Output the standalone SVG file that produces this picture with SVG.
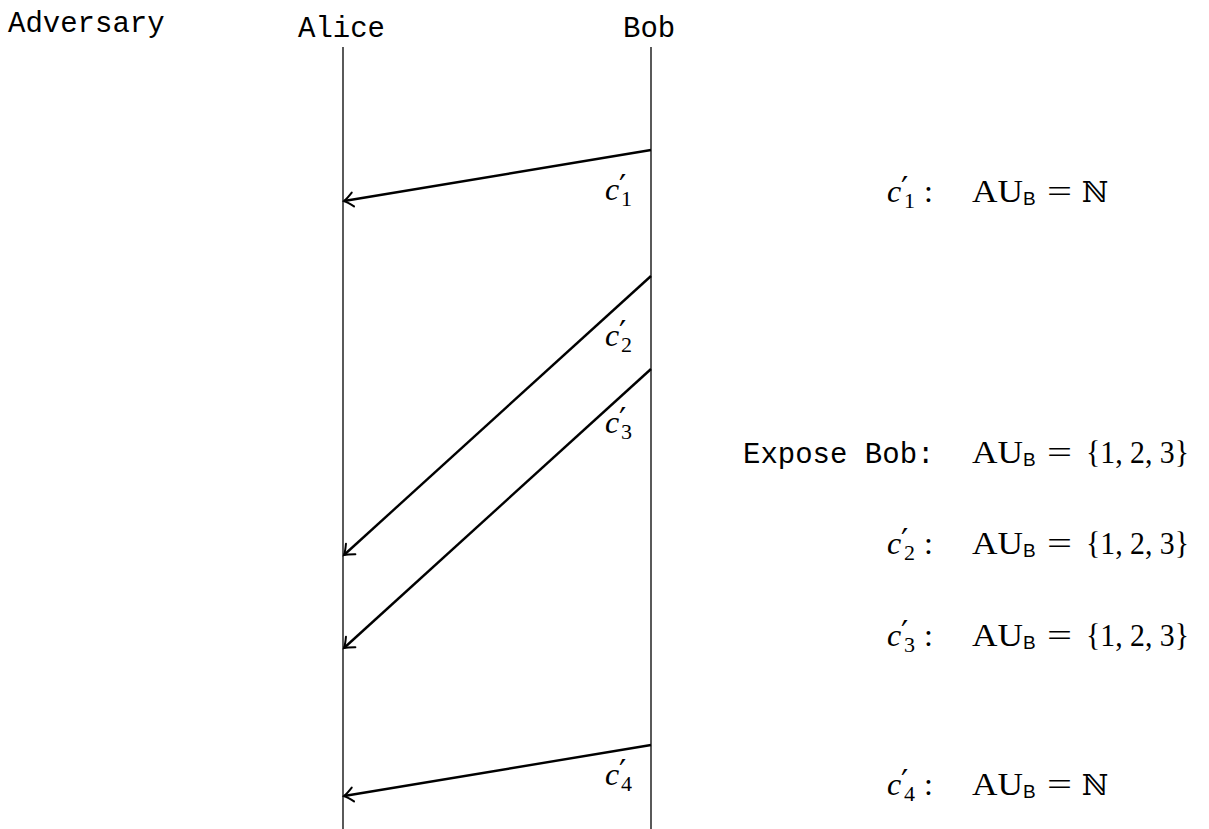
<svg xmlns="http://www.w3.org/2000/svg" width="1209" height="829" viewBox="0 0 1209 829">
  <style>
    .tt { font-family: "Liberation Mono", "DejaVu Sans Mono", monospace; font-size: 29px; fill: #000; }
    .mi { font-family: "Liberation Serif", "DejaVu Serif", serif; font-style: italic; font-size: 32px; fill: #000; }
    .rm { font-family: "Liberation Serif", "DejaVu Serif", serif; font-style: normal; font-size: 32px; fill: #000; }
    .sub { font-family: "Liberation Serif", "DejaVu Serif", serif; font-style: normal; font-size: 22px; }
    .pr { font-family: "DejaVu Sans", "Liberation Sans", sans-serif; font-style: normal; font-size: 32px; }
    .sf { font-family: "Liberation Sans", "DejaVu Sans", sans-serif; font-size: 19px; }
    .bb { font-family: "DejaVu Serif", "DejaVu Sans", serif; font-size: 29px; }
    .life { stroke: #000; stroke-width: 1.3; fill: none; }
    .msg { stroke: #000; stroke-width: 2.4; fill: none; marker-end: url(#to); }
  </style>
  <defs>
    <marker id="to" markerUnits="userSpaceOnUse" viewBox="-12 -9 14 18" refX="0" refY="0" markerWidth="14" markerHeight="18" orient="auto" overflow="visible">
      <path d="M -9 -7 Q -3 -1.5 0 0 Q -3 1.5 -9 7" fill="none" stroke="#000" stroke-width="2" stroke-linecap="round"/>
    </marker>
  </defs>

  <g id="adversary">
    <text class="tt" x="8" y="32">Adversary</text>
  </g>
  <g id="alice">
    <text class="tt" x="298" y="37">Alice</text>
    <line class="life" x1="343" y1="47" x2="343" y2="829"/>
  </g>
  <g id="bob">
    <text class="tt" x="623" y="37">Bob</text>
    <line class="life" x1="651" y1="47" x2="651" y2="829"/>
  </g>

  <g id="connectors">
    <path class="msg" d="M 651 150 L 344 201"/>
    <path class="msg" d="M 651 276 L 344 555"/>
    <path class="msg" d="M 651 369 L 344 648"/>
    <path class="msg" d="M 651 745 L 344 796"/>
  </g>

  <g id="msg-labels">
    <text id="lbl-c1" class="mi" x="605" y="200">c<tspan class="pr" x="619" y="197">′</tspan><tspan class="sub" x="621" y="206">1</tspan></text>
    <text id="lbl-c2" class="mi" x="605" y="346">c<tspan class="pr" x="619" y="343">′</tspan><tspan class="sub" x="621" y="352">2</tspan></text>
    <text id="lbl-c3" class="mi" x="605" y="433">c<tspan class="pr" x="619" y="430">′</tspan><tspan class="sub" x="621" y="439">3</tspan></text>
    <text id="lbl-c4" class="mi" x="605" y="785">c<tspan class="pr" x="619" y="782">′</tspan><tspan class="sub" x="621" y="791">4</tspan></text>
  </g>

  <g id="annotations">
    <g id="ann-c1">
      <text class="mi" x="887" y="202">c<tspan class="pr" x="901" y="199">′</tspan><tspan class="sub" x="904" y="208">1</tspan><tspan class="rm" x="924" y="202">:</tspan></text>
      <text class="rm" x="972" y="202"><tspan textLength="51" lengthAdjust="spacingAndGlyphs">AU</tspan><tspan class="sf" x="1023" y="205">B</tspan></text>
      <text class="rm" x="1047" y="202" textLength="25" lengthAdjust="spacingAndGlyphs">=</text>
      <text class="bb" x="1082" y="202">ℕ</text>
    </g>
    <g id="ann-expose">
      <text class="tt" x="743" y="463">Expose Bob:</text>
      <text class="rm" x="972" y="463"><tspan textLength="51" lengthAdjust="spacingAndGlyphs">AU</tspan><tspan class="sf" x="1023" y="466">B</tspan></text>
      <text class="rm" x="1047" y="463" textLength="25" lengthAdjust="spacingAndGlyphs">=</text>
      <text class="rm" x="1086" y="463" textLength="103" lengthAdjust="spacingAndGlyphs">{1, 2, 3}</text>
    </g>
    <g id="ann-c2">
      <text class="mi" x="887" y="554">c<tspan class="pr" x="901" y="551">′</tspan><tspan class="sub" x="904" y="560">2</tspan><tspan class="rm" x="924" y="554">:</tspan></text>
      <text class="rm" x="972" y="554"><tspan textLength="51" lengthAdjust="spacingAndGlyphs">AU</tspan><tspan class="sf" x="1023" y="557">B</tspan></text>
      <text class="rm" x="1047" y="554" textLength="25" lengthAdjust="spacingAndGlyphs">=</text>
      <text class="rm" x="1086" y="554" textLength="103" lengthAdjust="spacingAndGlyphs">{1, 2, 3}</text>
    </g>
    <g id="ann-c3">
      <text class="mi" x="887" y="646">c<tspan class="pr" x="901" y="643">′</tspan><tspan class="sub" x="904" y="652">3</tspan><tspan class="rm" x="924" y="646">:</tspan></text>
      <text class="rm" x="972" y="646"><tspan textLength="51" lengthAdjust="spacingAndGlyphs">AU</tspan><tspan class="sf" x="1023" y="649">B</tspan></text>
      <text class="rm" x="1047" y="646" textLength="25" lengthAdjust="spacingAndGlyphs">=</text>
      <text class="rm" x="1086" y="646" textLength="103" lengthAdjust="spacingAndGlyphs">{1, 2, 3}</text>
    </g>
    <g id="ann-c4">
      <text class="mi" x="887" y="795">c<tspan class="pr" x="901" y="792">′</tspan><tspan class="sub" x="904" y="801">4</tspan><tspan class="rm" x="924" y="795">:</tspan></text>
      <text class="rm" x="972" y="795"><tspan textLength="51" lengthAdjust="spacingAndGlyphs">AU</tspan><tspan class="sf" x="1023" y="798">B</tspan></text>
      <text class="rm" x="1047" y="795" textLength="25" lengthAdjust="spacingAndGlyphs">=</text>
      <text class="bb" x="1082" y="795">ℕ</text>
    </g>
  </g>
</svg>
